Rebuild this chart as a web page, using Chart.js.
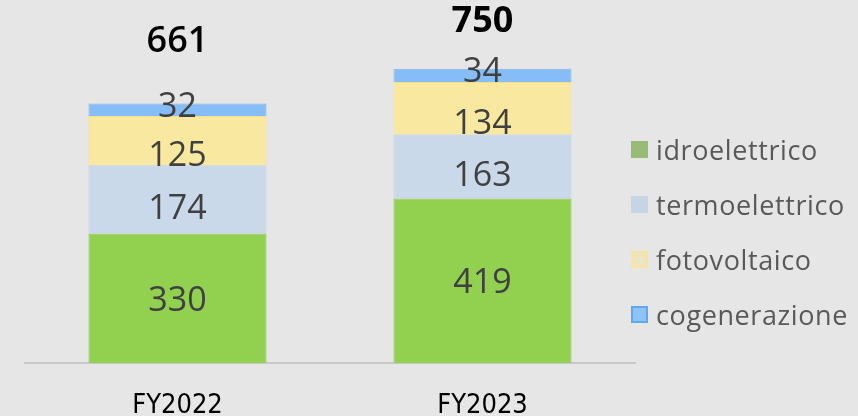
<!DOCTYPE html>
<html>
<head>
<meta charset="utf-8">
<script src="https://cdn.jsdelivr.net/npm/chart.js@4.4.1/dist/chart.umd.min.js"></script>
<style>
  html, body { margin: 0; padding: 0; background: #e6e6e6; }
  #wrap { position: relative; width: 858px; height: 416px; }
  #legend { position: absolute; left: 631px; top: 122px; font-family: 'Open Sans', 'Noto Sans', sans-serif; font-size: 27px; letter-spacing: 0.6px; color: #595959; }
  .leg-row { display: flex; align-items: center; height: 55px; white-space: nowrap; }
  .leg-box { width: 17px; height: 17px; margin-right: 8px; box-sizing: border-box; }
</style>
</head>
<body>
<div id="wrap">
  <canvas id="chart" width="858" height="416"></canvas>
  <div id="legend"></div>
</div>
<script>
// ── DATA ───────────────────────────────────────────────────────
const categories   = ['FY2022', 'FY2023'];
const seriesNames  = ['idroelettrico', 'termoelettrico', 'fotovoltaico', 'cogenerazione'];
const idroelettrico  = [330, 419];
const termoelettrico = [174, 163];
const fotovoltaico   = [125, 134];
const cogenerazione  = [32, 34];
const totals         = [661, 750];

// ── STYLES ─────────────────────────────────────────────────────
const barColors    = ['#92d050', '#c9d9ea', '#f9e8a0', '#86bdf6'];
const borderColors = ['#93c063', '#c3d2e2', '#f5e08a', '#80b8f0'];
const legendColors = ['#98bc78', '#c6d5e6', '#ece4c2', '#8ec3f7'];
const legendBorder = ['#98bc78', '#c6d5e6', '#f7e59a', '#5ea8ef'];
const labelOffsets = [3, 10, 16, -3];
const totalOffsets = [-62, -47];
const totalWeights = ['600', 'bold'];

const seriesData = [idroelettrico, termoelettrico, fotovoltaico, cogenerazione];

// draws the value inside each segment and the total above the stack
const valueLabels = {
  id: 'valueLabels',
  afterDatasetsDraw(chart) {
    const ctx = chart.ctx;
    ctx.save();
    ctx.textAlign = 'center';
    ctx.textBaseline = 'middle';
    ctx.fillStyle = '#404040';
    ctx.font = '34px "Open Sans", "Noto Sans", sans-serif';
    chart.data.datasets.forEach((ds, i) => {
      chart.getDatasetMeta(i).data.forEach((bar, j) => {
        const { x, y, base } = bar.getProps(['x', 'y', 'base'], true);
        ctx.fillText(ds.data[j], x, (y + base) / 2 + labelOffsets[i]);
      });
    });
    // totals
    const top = chart.getDatasetMeta(chart.data.datasets.length - 1).data;
    ctx.fillStyle = '#000';
    totals.forEach((t, j) => {
      const x = top[j].x;
      const y = chart.scales.y.getPixelForValue(t);
      ctx.font = totalWeights[j] + ' 36px "Open Sans", "Noto Sans", sans-serif';
      ctx.fillText(t, x, y + totalOffsets[j]);
    });
    ctx.restore();
  },
};

const ctx = document.getElementById('chart').getContext('2d');
const chart = new Chart(ctx, {
  type: 'bar',
  data: {
    labels: categories,
    datasets: seriesNames.map((name, i) => ({
      label: name,
      data: seriesData[i],
      backgroundColor: barColors[i],
      borderColor: borderColors[i],
      borderWidth: 1,
      barPercentage: 0.584,
      categoryPercentage: 1,
    })),
  },
  options: {
    responsive: false,
    animation: false,
    layout: { padding: { top: 49, left: 25, right: 223, bottom: 0 } },
    plugins: { legend: { display: false }, tooltip: { enabled: false } },
    scales: {
      x: {
        stacked: true,
        grid: { display: false },
        border: { display: true, color: '#c8c8c8', width: 2 },
        ticks: {
          color: '#000',
          padding: 21,
          font: { size: 27, family: '"Liberation Sans Narrow", "DejaVu Sans Condensed", sans-serif', lineHeight: 1 },
        },
        afterFit: s => { s.height = 53; },
      },
      y: { stacked: true, display: false, min: 0, max: 800 },
    },
  },
  plugins: [valueLabels],
});

// ── LEGEND ─────────────────────────────────────────────────────
document.getElementById('legend').innerHTML = seriesNames.map((name, i) => `
  <div class="leg-row">
    <div class="leg-box" style="background:${legendColors[i]};border:2px solid ${legendBorder[i]}"></div>
    ${name}
  </div>`).join('');
</script>
</body>
</html>
